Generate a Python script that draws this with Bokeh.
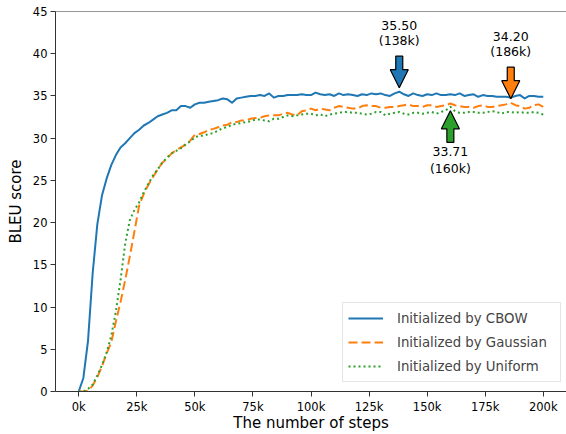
from bokeh.plotting import figure
from bokeh.models import Span, FixedTicker
from bokeh.embed import file_html
from bokeh.resources import INLINE
from bokeh.core.properties import value

# ---------------- data ----------------
steps_k = list(range(0, 201, 2))  # training steps in thousands

cbow = [
    0.0, 1.6, 6.0, 14.0, 19.8, 23.2, 25.2, 26.8, 28.0, 28.9,
    29.4, 30.0, 30.6, 31.0, 31.5, 31.8, 32.2, 32.6, 32.8, 33.0,
    33.3, 33.3, 33.8, 33.8, 33.6, 34.0, 34.2, 34.2, 34.3, 34.4,
    34.5, 34.7, 34.6, 34.2, 34.7, 34.8, 34.9, 35.0, 35.0, 35.1,
    35.0, 35.3, 34.8, 35.0, 35.0, 35.1, 35.1, 35.1, 35.2, 35.1,
    35.1, 35.4, 35.2, 35.1, 35.2, 35.0, 35.3, 35.1, 35.2, 35.1,
    35.0, 35.2, 35.1, 35.3, 35.2, 35.3, 35.1, 35.0, 35.3, 35.5,
    35.2, 35.0, 35.3, 35.1, 35.0, 35.2, 35.1, 35.3, 35.1, 35.1,
    35.2, 35.1, 35.3, 35.0, 35.1, 35.2, 34.9, 35.1, 35.0, 35.0,
    34.9, 34.9, 34.9, 34.8, 35.0, 35.1, 34.7, 35.0, 35.0, 34.9,
    34.9,
]

gaussian = [
    0.0, 0.0, 0.1, 0.7, 1.7, 3.0, 4.5, 5.8, 8.3, 10.6,
    13.2, 16.0, 19.0, 22.0, 23.4, 24.5, 25.4, 26.3, 27.1, 27.6,
    28.2, 28.6, 28.9, 29.2, 29.7, 30.4, 30.5, 30.7, 31.0, 31.1,
    31.3, 31.5, 31.6, 31.9, 31.9, 32.1, 32.1, 32.3, 32.4, 32.4,
    32.6, 32.7, 32.7, 32.7, 32.9, 33.0, 32.8, 32.7, 33.2, 33.3,
    33.5, 33.3, 33.5, 33.4, 33.3, 33.6, 33.8, 33.7, 33.6, 33.5,
    33.5, 33.8, 33.9, 33.8, 33.8, 33.6, 33.6, 33.7, 33.7, 33.8,
    33.9, 34.0, 33.8, 33.8, 33.7, 33.9, 33.9, 33.7, 33.8, 33.9,
    34.1, 33.9, 33.8, 33.7, 33.7, 33.6, 33.8, 33.9, 33.7, 33.7,
    33.8, 33.9, 34.0, 34.2, 33.9, 33.8, 33.5, 33.6, 33.9, 34.0,
    33.7,
]

uniform = [
    0.0, 0.0, 0.3, 0.8, 1.9, 3.1, 4.6, 6.6, 9.5, 13.2,
    17.5, 20.3, 21.5, 22.4, 23.6, 24.6, 25.6, 26.3, 27.1, 27.7,
    28.2, 28.5, 28.8, 29.3, 29.6, 30.1, 30.3, 30.3, 30.5, 30.6,
    30.9, 31.2, 31.3, 31.6, 31.7, 31.8, 31.9, 32.0, 32.2, 32.2,
    32.1, 32.0, 32.3, 32.3, 32.5, 32.7, 32.6, 32.7, 32.8, 32.9,
    32.9, 32.7, 32.8, 32.6, 32.8, 32.9, 33.0, 33.1, 33.1, 33.0,
    33.0, 32.9, 32.8, 32.9, 33.1, 33.1, 32.7, 32.9, 33.0, 33.1,
    32.9, 32.8, 33.0, 33.0, 32.9, 33.0, 33.1, 32.9, 33.1, 33.3,
    33.71, 33.2, 33.0, 33.0, 33.1, 33.1, 33.0, 33.0, 33.1, 33.2,
    33.1, 32.9, 33.1, 33.1, 33.0, 33.1, 33.0, 33.0, 33.1, 33.0,
    32.8,
]

series_labels = ["Initialized by CBOW", "Initialized by Gaussian", "Initialized by Uniform"]
series_colors = ["#1f77b4", "#ff7f0e", "#2ca02c"]
series_dashes = ["solid", "9 4", "2 3"]

x_ticks = [0, 25, 50, 75, 100, 125, 150, 175, 200]
x_tick_labels = ["0k", "25k", "50k", "75k", "100k", "125k", "150k", "175k", "200k"]
y_ticks = [0, 5, 10, 15, 20, 25, 30, 35, 40, 45]

ann_steps = [138, 160, 186]
ann_values = [35.50, 33.71, 34.20]
ann_line1 = ["35.50", "33.71", "34.20"]
ann_line2 = ["(138k)", "(160k)", "(186k)"]
ann_down = [True, False, True]          # arrow above the point, pointing down
ann_colors = ["#1f77b4", "#2ca02c", "#ff7f0e"]

# ---------------- layout ----------------
X_START, X_END = -10, 210
Y_START, Y_END = 0, 45
W, H = 566, 434
ML, MR, MT, MB = 55, 0, 11, 43
px_x = (X_END - X_START) / (W - ML - MR)
px_y = (Y_END - Y_START) / (H - MT - MB)

FONT = "DejaVu Sans"
AX = "#333333"

p = figure(width=W, height=H, x_range=(X_START, X_END), y_range=(Y_START, Y_END),
           output_backend="svg", toolbar_location=None,
           min_border_left=ML, min_border_right=MR, min_border_top=MT, min_border_bottom=MB,
           x_axis_label="The number of steps", y_axis_label="BLEU score")
p.outline_line_color = None
p.xgrid.visible = False
p.ygrid.visible = False
p.background_fill_color = "white"
p.border_fill_color = "white"

for ys, lab, col, dash in zip([cbow, gaussian, uniform], series_labels, series_colors, series_dashes):
    p.line(steps_k, ys, line_color=col, line_width=2, line_dash=dash,
           line_join="round", legend_label=lab)

# top spine
p.add_layout(Span(location=Y_END, dimension="width", line_color=AX, line_width=1))

# axes
p.xaxis.ticker = FixedTicker(ticks=x_ticks)
p.xaxis.major_label_overrides = {t: l for t, l in zip(x_ticks, x_tick_labels)}
p.yaxis.ticker = FixedTicker(ticks=y_ticks)
for ax in (p.xaxis[0], p.yaxis[0]):
    ax.axis_line_color = AX
    ax.axis_line_width = 1
    ax.major_tick_line_color = AX
    ax.major_tick_in = 0
    ax.major_tick_out = 5
    ax.major_label_standoff = 3
    ax.minor_tick_line_color = None
    ax.major_label_text_font = FONT
    ax.major_label_text_font_size = "11.5px"
    ax.major_label_text_color = "black"
    ax.axis_label_text_font = FONT
    ax.axis_label_text_font_size = "15px"
    ax.axis_label_text_font_style = "normal"
    ax.axis_label_text_color = "black"
p.xaxis.axis_label_standoff = -3
p.yaxis.axis_label_standoff = 5

# arrows and annotation texts
axs, ays, t_x, t_y, t_txt = [], [], [], [], []
for x, v, l1, l2, down in zip(ann_steps, ann_values, ann_line1, ann_line2, ann_down):
    s = 1 if down else -1
    tip = v + s * 4 * px_y
    hb = v + s * 22 * px_y
    se = v + s * 35.5 * px_y
    hw = 9 * px_x
    sw = 3.5 * px_x
    axs.append([x - sw, x + sw, x + sw, x + hw, x, x - hw, x - sw])
    ays.append([se, se, hb, hb, tip, hb, hb])
    if down:
        y1, y2 = v + 66 * px_y, v + 51 * px_y
    else:
        y1, y2 = v - 45 * px_y, v - 62 * px_y
    t_x += [x, x]
    t_y += [y1, y2]
    t_txt += [l1, l2]

p.patches(axs, ays, fill_color=ann_colors, line_color="black", line_width=1.2)
p.text(t_x, t_y, text=t_txt, text_font=value(FONT), text_font_size="12.5px",
       text_align="center", text_baseline="middle", text_color="black")

# legend
lg = p.legend[0]
lg.location = (287, 9)
lg.margin = 0
lg.padding = 5
lg.spacing = 4
lg.label_height = 20
lg.glyph_height = 20
lg.glyph_width = 35
lg.label_width = 158
lg.label_standoff = 14
lg.label_text_font = FONT
lg.label_text_font_size = "13.3px"
lg.border_line_color = "#cccccc"
lg.border_line_width = 1
lg.background_fill_alpha = 0.8

open("out.html", "w").write(file_html(p, INLINE))
